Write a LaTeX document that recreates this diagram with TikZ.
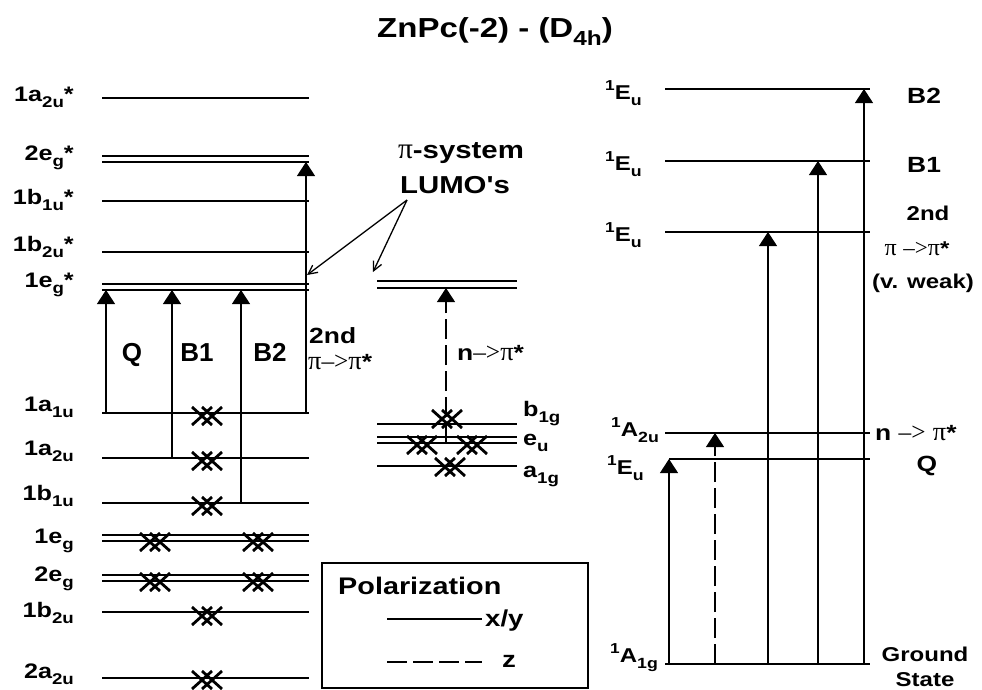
\documentclass[tikz,border=0pt]{standalone}
\usepackage{fontspec}
\setmainfont{Liberation Sans}
\newfontfamily\wide{Liberation Sans}[FakeStretch=1.2]
\newfontfamily\pif{Liberation Serif}
\usetikzlibrary{arrows.meta}
\makeatletter
\newcommand{\sbs}[1]{\raisebox{-0.32em}{\fontsize{\fpeval{0.74*\f@size}}{0}\selectfont #1}}
\newcommand{\sps}[1]{\raisebox{0.42em}{\fontsize{\fpeval{0.72*\f@size}}{0}\selectfont #1}}
\newcommand{\ppi}{{\fontsize{\fpeval{1.2*\f@size}}{0}\selectfont\pif\mdseries π}}
\newcommand{\parr}{{\fontsize{\fpeval{1.15*\f@size}}{0}\selectfont\pif\mdseries –>}}
\makeatother
\newcommand{\fw}[1]{\fontsize{#1}{#1}\selectfont\wide\bfseries}
\newcommand{\fn}[1]{\fontsize{#1}{#1}\selectfont\bfseries}
\begin{document}
\begin{tikzpicture}[x=1pt,y=-1pt,
  lvl/.style={line width=1.4pt},
  trans/.style={line width=1.1pt,-{Triangle[width=18pt,length=14pt]}},
  ztrans/.style={trans,dash pattern=on 20pt off 6pt},
  lab/.style={inner sep=0pt,font=\fw{21}},
  llab/.style={lab,anchor=base east},
  rlab/.style={lab,anchor=base west},
  big/.style={inner sep=0pt,font=\fn{26},anchor=base},
  note/.style={inner sep=0pt,font=\fw{22}},
  snote/.style={inner sep=0pt,font=\fw{20}},
  state/.style={inner sep=0pt,font=\fw{20},anchor=base west},
  ptr/.style={line width=1.3pt,-{Straight Barb[length=9pt,width=9pt]}},
  xx/.pic={\draw[line width=2.8pt] (-15,-9)--(5,9) (-15,9)--(5,-9) (-5,-9)--(15,9) (-5,9)--(15,-9);}
]
\useasboundingbox (0,0) rectangle (982,689);

% title
\node[inner sep=0pt,font=\fw{27.5},anchor=base west] (title) at (377,37) {ZnPc(-2) - (D\sbs{4h})};

% ---------- left column levels ----------
\foreach \y in {98,156,162,201,252,284,290,413,458,503,535,541,575,581,612,678}
  \draw[lvl] (102,\y) -- (309,\y);

\node[llab] (l1) at (74,101) {1a\sbs{2u}*};
\node[llab] (l2) at (74,160) {2e\sbs{g}*};
\node[llab] (l3) at (74,204) {1b\sbs{1u}*};
\node[llab] (l4) at (74,251) {1b\sbs{2u}*};
\node[llab] (l5) at (74,287) {1e\sbs{g}*};
\node[llab] (l6) at (74,411) {1a\sbs{1u}};
\node[llab] (l7) at (74,455) {1a\sbs{2u}};
\node[llab] (l8) at (74,500) {1b\sbs{1u}};
\node[llab] (l9) at (74,543) {1e\sbs{g}};
\node[llab] (l10) at (74,581) {2e\sbs{g}};
\node[llab] (l11) at (74,617) {1b\sbs{2u}};
\node[llab] (l12) at (74,678) {2a\sbs{2u}};

% electrons
\pic at (207,416) {xx};
\pic at (207,461) {xx};
\pic at (207,506) {xx};
\pic at (155,542) {xx};
\pic at (258,542) {xx};
\pic at (155,582) {xx};
\pic at (258,582) {xx};
\pic at (207,616) {xx};
\pic at (207,680) {xx};

% transitions
\coordinate (qa) at (106,413); \coordinate (qb) at (106,290);
\coordinate (b1a) at (172,458); \coordinate (b1b) at (172,290);
\coordinate (b2a) at (241,503); \coordinate (b2b) at (241,290);
\coordinate (sa) at (306,413); \coordinate (sb) at (306,162);
\draw[trans] (qa) -- (qb);
\draw[trans] (b1a) -- (b1b);
\draw[trans] (b2a) -- (b2b);
\draw[trans] (sa) -- (sb);

\node[big] (tq) at (132,361) {Q};
\node[big] (tb1) at (197,361) {B1};
\node[big] (tb2) at (270,361) {B2};
\node[note,anchor=base west] (t2nd) at (309,343) {2nd};
\node[note,anchor=base west] (tpp) at (308,369) {\ppi\parr\ppi*};

% ---------- middle column ----------
\foreach \y in {281,288,424,437,443}
  \draw[lvl] (377,\y) -- (517,\y);
\draw[lvl] (377,466) -- (517,466);
\pic at (447,419) {xx};
\pic at (422,445) {xx};
\pic at (472,445) {xx};
\pic at (450,467) {xx};
\coordinate (na) at (446,443); \coordinate (nb) at (446,288);
\draw[ztrans] (na) -- (nb);
\node[note,anchor=base west] (tn) at (457,360) {n\parr\ppi*};
\node[rlab] (m1) at (523,416) {b\sbs{1g}};
\node[rlab] (m2) at (523,445) {e\sbs{u}};
\node[rlab] (m3) at (523,477) {a\sbs{1g}};

% LUMO annotation
\node[inner sep=0pt,font=\fw{24.5},anchor=base] (psys) at (461,158) {\ppi-system};
\node[inner sep=0pt,font=\fw{24.5},anchor=base] (lumo) at (455,193) {LUMO's};
\coordinate (ps) at (407,200);
\coordinate (pl) at (307,275);
\coordinate (pr) at (373,272);
\draw[ptr] (ps) -- (pl);
\draw[ptr] (ps) -- (pr);

% legend
\draw[line width=1.8pt] (322,563) rectangle (588,688);
\node[inner sep=0pt,font=\fw{24},anchor=base west] (pol) at (338,594) {Polarization};
\coordinate (la) at (387,619); \coordinate (lb) at (482,619);
\draw[line width=1.2pt] (la) -- (lb);
\node[inner sep=0pt,font=\fw{23},anchor=base west] (lxy) at (485,626) {x/y};
\coordinate (lc) at (387,662); \coordinate (ld) at (482,662);
\draw[line width=1.2pt,dash pattern=on 20pt off 6pt] (lc) -- (ld);
\node[inner sep=0pt,font=\fw{23},anchor=base west] (lz) at (502,667) {z};

% ---------- right column ----------
\foreach \y in {89,161,232,433,664}
  \draw[lvl] (665,\y) -- (870,\y);
\draw[lvl] (669,459) -- (870,459);
\coordinate (g1) at (669,664); \coordinate (e1) at (669,459);
\coordinate (g2) at (715,664); \coordinate (e2) at (715,433);
\coordinate (g3) at (768,664); \coordinate (e3) at (768,232);
\coordinate (g4) at (818,664); \coordinate (e4) at (818,161);
\coordinate (g5) at (864,664); \coordinate (e5) at (864,89);
\draw[trans] (g1) -- (e1);
\draw[ztrans] (g2) -- (e2);
\draw[trans] (g3) -- (e3);
\draw[trans] (g4) -- (e4);
\draw[trans] (g5) -- (e5);

\node[state] (r1) at (605,99) {\sps{1}E\sbs{u}};
\node[state] (r2) at (605,170) {\sps{1}E\sbs{u}};
\node[state] (r3) at (605,241) {\sps{1}E\sbs{u}};
\node[state] (r4) at (611,436) {\sps{1}A\sbs{2u}};
\node[state] (r5) at (607,474) {\sps{1}E\sbs{u}};
\node[state] (r6) at (610,662) {\sps{1}A\sbs{1g}};

\node[note,anchor=base west] (s1) at (907,103) {B2};
\node[note,anchor=base west] (s2) at (907,172) {B1};
\node[snote,anchor=base] (s3) at (928,220) {2nd};
\node[snote,anchor=base] (s4) at (917,255) {\ppi\ \parr\ppi*};
\node[snote,anchor=base] (s5) at (923,288) {(v. weak)};
\node[note,anchor=base west] (s6) at (875,440) {n \parr\ \ppi*};
\node[note,anchor=base] (s7) at (927,471) {Q};
\node[snote,anchor=base] (s8) at (925,661) {Ground};
\node[snote,anchor=base] (s9) at (925,686) {State};
\end{tikzpicture}
\end{document}
